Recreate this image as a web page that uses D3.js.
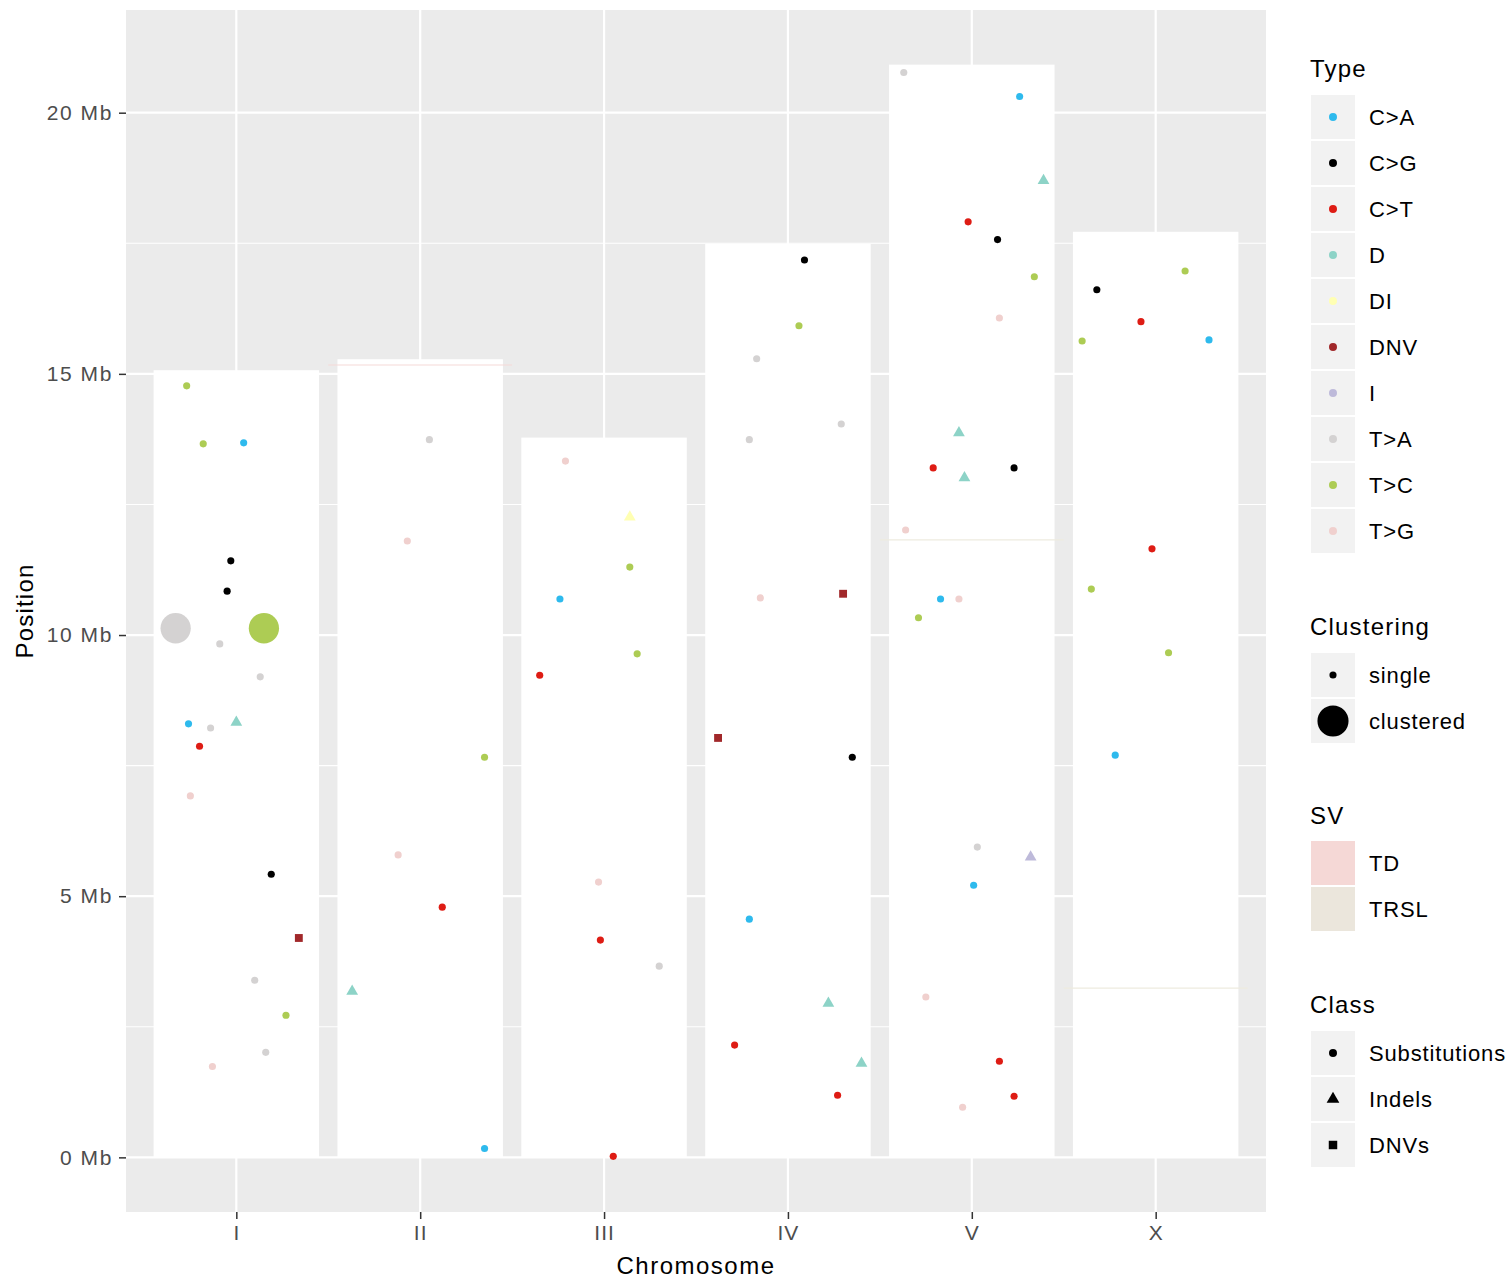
<!DOCTYPE html>
<html>
<head>
<meta charset="utf-8">
<script src="https://cdn.jsdelivr.net/npm/d3@7"></script>
<style>
  body { margin: 0; background: #fff; }
  svg { display: block; font-family: "Liberation Sans", Arial, sans-serif; }
</style>
</head>
<body>
<div id="chart"></div>
<script>
// Mutation positions along C. elegans chromosomes

const chromosomes = ["I", "II", "III", "IV", "V", "X"];
const chromLengths = [15.07, 15.28, 13.78, 17.49, 20.92, 17.72]; // Mb
const yTicks = [0, 5, 10, 15, 20];
const yMinor = [2.5, 7.5, 12.5, 17.5];

const types = ["C>A", "C>G", "C>T", "D", "DI", "DNV", "I", "T>A", "T>C", "T>G"];
const typeColors = ["#2ebaed", "#000000", "#de1c14", "#8dd3c7", "#ffffb3", "#a1282a", "#bebada", "#d4d2d2", "#adcc54", "#f0d0ce"];
const clusterLevels = ["single", "clustered"];
const svTypes = ["TD", "TRSL"];
const svColors = ["#f5d8d6", "#ebe6dc"];
const classes = ["Substitutions", "Indels", "DNVs"];

// [type, position Mb, jitter (chromosome units), clustered]
const chrI = [
  ["T>C", 14.77, -0.27, 0], ["T>C", 13.66, -0.18, 0], ["C>A", 13.68, 0.04, 0],
  ["C>G", 11.42, -0.03, 0], ["C>G", 10.84, -0.05, 0], ["T>A", 10.13, -0.33, 1],
  ["T>C", 10.13, 0.15, 1], ["T>A", 9.83, -0.09, 0], ["T>A", 9.20, 0.13, 0],
  ["C>A", 8.30, -0.26, 0], ["T>A", 8.22, -0.14, 0], ["D", 8.33, 0.00, 0],
  ["C>T", 7.87, -0.20, 0], ["T>G", 6.92, -0.25, 0], ["C>G", 5.42, 0.19, 0],
  ["DNV", 4.20, 0.34, 0], ["T>A", 3.39, 0.10, 0], ["T>C", 2.72, 0.27, 0],
  ["T>A", 2.01, 0.16, 0], ["T>G", 1.74, -0.13, 0]
];
const chrII = [
  ["T>A", 13.74, 0.05, 0], ["T>G", 11.80, -0.07, 0], ["T>C", 7.66, 0.35, 0],
  ["T>G", 5.79, -0.12, 0], ["C>T", 4.79, 0.12, 0], ["D", 3.18, -0.37, 0],
  ["C>A", 0.17, 0.35, 0]
];
const chrIII = [
  ["T>G", 13.33, -0.21, 0], ["DI", 12.26, 0.14, 0], ["T>C", 11.30, 0.14, 0],
  ["C>A", 10.69, -0.24, 0], ["T>C", 9.64, 0.18, 0], ["C>T", 9.23, -0.35, 0],
  ["T>G", 5.27, -0.03, 0], ["C>T", 4.16, -0.02, 0], ["T>A", 3.66, 0.30, 0],
  ["C>T", 0.02, 0.05, 0]
];
const chrIV = [
  ["C>G", 17.18, 0.09, 0], ["T>C", 15.92, 0.06, 0], ["T>A", 15.29, -0.17, 0],
  ["T>A", 14.04, 0.29, 0], ["T>A", 13.74, -0.21, 0], ["DNV", 10.79, 0.30, 0],
  ["T>G", 10.71, -0.15, 0], ["DNV", 8.03, -0.38, 0], ["C>G", 7.66, 0.35, 0],
  ["C>A", 4.56, -0.21, 0], ["D", 2.95, 0.22, 0], ["C>T", 2.15, -0.29, 0],
  ["D", 1.80, 0.40, 0], ["C>T", 1.19, 0.27, 0]
];
const chrV = [
  ["T>A", 20.77, -0.37, 0], ["C>A", 20.31, 0.26, 0], ["D", 18.70, 0.39, 0],
  ["C>T", 17.91, -0.02, 0], ["C>G", 17.57, 0.14, 0], ["T>C", 16.86, 0.34, 0],
  ["T>G", 16.07, 0.15, 0], ["D", 13.87, -0.07, 0], ["C>T", 13.20, -0.21, 0],
  ["C>G", 13.20, 0.23, 0], ["D", 13.01, -0.04, 0], ["T>G", 12.01, -0.36, 0],
  ["C>A", 10.69, -0.17, 0], ["T>G", 10.69, -0.07, 0], ["T>C", 10.33, -0.29, 0],
  ["T>A", 5.94, 0.03, 0], ["I", 5.75, 0.32, 0], ["C>A", 5.21, 0.01, 0],
  ["T>G", 3.07, -0.25, 0], ["C>T", 1.84, 0.15, 0], ["C>T", 1.17, 0.23, 0],
  ["T>G", 0.96, -0.05, 0]
];
const chrX = [
  ["T>C", 16.97, 0.16, 0], ["C>G", 16.61, -0.32, 0], ["C>T", 16.00, -0.08, 0],
  ["C>A", 15.65, 0.29, 0], ["T>C", 15.63, -0.40, 0], ["C>T", 11.65, -0.02, 0],
  ["T>C", 10.88, -0.35, 0], ["T>C", 9.66, 0.07, 0], ["C>A", 7.70, -0.22, 0]
];

const svChrom = ["II", "V", "X"];
const svPos = [15.17, 11.82, 3.24];
const svType = ["TD", "TRSL", "TRSL"];

// build rows
const perChrom = [chrI, chrII, chrIII, chrIV, chrV, chrX];
const mutations = [];
perChrom.forEach((arr, i) => {
  arr.forEach(r => mutations.push({
    chrom: chromosomes[i], type: r[0], pos: r[1], jitter: r[2], clustered: r[3] === 1
  }));
});
const classOf = t => (t === "D" || t === "DI" || t === "I") ? "Indels" : (t === "DNV" ? "DNVs" : "Substitutions");

const W = 1510, H = 1280;
const M = { left: 126, right: 1266, top: 10, bottom: 1212 };

const svg = d3.select("#chart").append("svg")
  .attr("width", W).attr("height", H);

const x = d3.scaleLinear().domain([-0.6, chromosomes.length - 1 + 0.6]).range([M.left, M.right]);
const xi = c => x(chromosomes.indexOf(c));
const yMax = d3.max(chromLengths);
const y = d3.scaleLinear().domain([-0.05 * yMax, yMax * 1.05]).range([M.bottom, M.top]);

const color = d3.scaleOrdinal().domain(types).range(typeColors);
const svColor = d3.scaleOrdinal().domain(svTypes).range(svColors);
const svLine = d3.scaleOrdinal().domain(svTypes).range(["#f6d9d7", "#eeebdf"]);
const shapeScale = d3.scaleOrdinal().domain(classes).range([d3.symbolCircle, d3.symbolTriangle, d3.symbolSquare]);
const sizeScale = d3.scaleOrdinal().domain(classes).range([40, 60, 62]);

// panel
svg.append("rect")
  .attr("x", M.left).attr("y", M.top)
  .attr("width", M.right - M.left).attr("height", M.bottom - M.top)
  .attr("fill", "#ebebeb");

const grid = svg.append("g").attr("stroke", "#fff").attr("fill", "none");
yMinor.forEach(v => grid.append("line")
  .attr("x1", M.left).attr("x2", M.right).attr("y1", y(v)).attr("y2", y(v))
  .attr("stroke-width", 1.1));
yTicks.forEach(v => grid.append("line")
  .attr("x1", M.left).attr("x2", M.right).attr("y1", y(v)).attr("y2", y(v))
  .attr("stroke-width", 2.2));
chromosomes.forEach((c, i) => grid.append("line")
  .attr("x1", x(i)).attr("x2", x(i)).attr("y1", M.top).attr("y2", M.bottom)
  .attr("stroke-width", 2.2));

// chromosome bodies
svg.append("g").selectAll("rect")
  .data(chromosomes)
  .join("rect")
  .attr("x", (d, i) => x(i - 0.45))
  .attr("width", x(0.45) - x(-0.45))
  .attr("y", (d, i) => y(chromLengths[i]))
  .attr("height", (d, i) => y(0) - y(chromLengths[i]))
  .attr("fill", "#fff");

// structural variants
svg.append("g").selectAll("line")
  .data(svChrom.map((c, i) => ({ chrom: c, pos: svPos[i], type: svType[i] })))
  .join("line")
  .attr("x1", d => xi(d.chrom) - (x(0.5) - x(0)))
  .attr("x2", d => xi(d.chrom) + (x(0.5) - x(0)))
  .attr("y1", d => y(d.pos)).attr("y2", d => y(d.pos))
  .attr("stroke", d => svLine(d.type))
  .attr("stroke-width", 1.2);

// mutations
svg.append("g").selectAll("path")
  .data(mutations)
  .join("path")
  .attr("transform", d => `translate(${xi(d.chrom) + (x(d.jitter) - x(0))},${y(d.pos)})`)
  .attr("d", d => {
    const cls = classOf(d.type);
    const size = d.clustered ? 720 : sizeScale(cls);
    return d3.symbol().type(shapeScale(cls)).size(size)();
  })
  .attr("fill", d => color(d.type));

// axes
const textCol = "#4d4d4d";
const yAxis = svg.append("g")
  .attr("transform", `translate(${M.left},0)`)
  .call(d3.axisLeft(y).tickValues(yTicks).tickFormat(d => d + " Mb").tickSize(7).tickPadding(6));
yAxis.select(".domain").remove();
yAxis.selectAll("line").attr("stroke", "#333").attr("stroke-width", 1.5);
yAxis.selectAll("text").attr("fill", textCol).attr("font-size", 21)
  .attr("letter-spacing", 1.6).attr("font-family", "Liberation Sans, Arial, sans-serif");

const xAxis = svg.append("g")
  .attr("transform", `translate(0,${M.bottom})`)
  .call(d3.axisBottom(x).tickValues(d3.range(chromosomes.length)).tickFormat(i => chromosomes[i]).tickSize(7).tickPadding(6));
xAxis.select(".domain").remove();
xAxis.selectAll("line").attr("stroke", "#333").attr("stroke-width", 1.5);
xAxis.selectAll("text").attr("fill", textCol).attr("font-size", 21)
  .attr("letter-spacing", 1).attr("font-family", "Liberation Sans, Arial, sans-serif");

svg.append("text")
  .attr("x", (M.left + M.right) / 2).attr("y", 1274)
  .attr("text-anchor", "middle").attr("font-size", 24).attr("letter-spacing", 1.5).attr("fill", "#000")
  .text("Chromosome");
svg.append("text")
  .attr("transform", `translate(33,${(M.top + M.bottom) / 2}) rotate(-90)`)
  .attr("text-anchor", "middle").attr("font-size", 24).attr("letter-spacing", 1.2).attr("fill", "#000")
  .text("Position");

// legends
const legX = 1311, keyW = 44, keyH = 44, keyStep = 46, labX = 1369;
const leg = svg.append("g");

function legendTitle(txt, yPos) {
  leg.append("text").attr("x", legX - 1).attr("y", yPos)
    .attr("font-size", 24).attr("letter-spacing", 1.2).attr("fill", "#000").text(txt);
}
function keyBox(top, fill) {
  leg.append("rect").attr("x", legX).attr("y", top)
    .attr("width", keyW).attr("height", keyH).attr("fill", fill || "#f2f2f2");
}
function keyLabel(txt, top) {
  leg.append("text").attr("x", labX).attr("y", top + keyH / 2)
    .attr("dy", "0.36em").attr("font-size", 22).attr("letter-spacing", 0.85)
    .attr("fill", "#000").text(txt);
}

// Type
legendTitle("Type", 77);
types.forEach((t, i) => {
  const top = 95 + i * keyStep;
  keyBox(top);
  leg.append("path")
    .attr("transform", `translate(${legX + keyW / 2},${top + keyH / 2})`)
    .attr("d", d3.symbol().type(d3.symbolCircle).size(50)())
    .attr("fill", color(t));
  keyLabel(t, top);
});

// Clustering
legendTitle("Clustering", 635);
clusterLevels.forEach((c, i) => {
  const top = 653 + i * keyStep;
  keyBox(top);
  leg.append("path")
    .attr("transform", `translate(${legX + keyW / 2},${top + keyH / 2})`)
    .attr("d", d3.symbol().type(d3.symbolCircle).size(c === "clustered" ? 760 : 40)())
    .attr("fill", "#000");
  keyLabel(c, top);
});

// SV
legendTitle("SV", 824);
svTypes.forEach((s, i) => {
  const top = 841 + i * keyStep;
  keyBox(top, svColor(s));
  keyLabel(s, top);
});

// Class
legendTitle("Class", 1013);
classes.forEach((c, i) => {
  const top = 1031 + i * keyStep;
  keyBox(top);
  leg.append("path")
    .attr("transform", `translate(${legX + keyW / 2},${top + keyH / 2})`)
    .attr("d", d3.symbol().type(shapeScale(c)).size(sizeScale(c) + 10)())
    .attr("fill", "#000");
  keyLabel(c, top);
});
</script>
</body>
</html>
